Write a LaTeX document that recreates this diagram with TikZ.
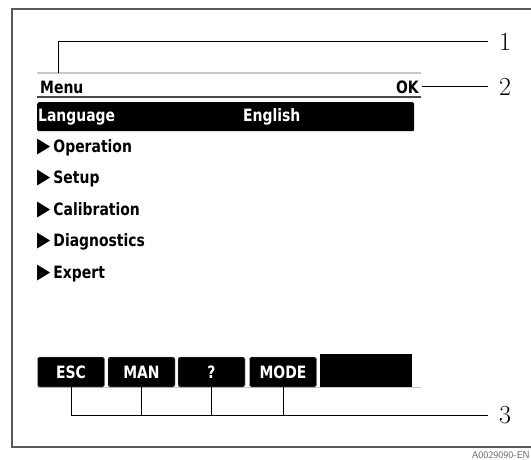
\documentclass[tikz,border=0pt]{standalone}
\usepackage{fontspec}
\usetikzlibrary{positioning}
\newfontfamily\lcdfont[FakeStretch=0.82]{DejaVu Sans}
\colorlet{framec}{black!65}
\colorlet{rulelightc}{black!22}
\colorlet{ruledarkc}{black!72}

\tikzset{
  lcd/.style={font=\lcdfont\bfseries\fontsize{17}{20}\selectfont, inner sep=0pt},
  lcdkey/.style={lcd, draw=black!35, fill=black, text=white, rounded corners=2pt,
                 minimum height=30pt, minimum width=67pt},
  leader/.style={draw=black, line width=0.8pt},
  callout/.style={font=\fontsize{26}{30}\selectfont, inner sep=0pt},
}
\newcommand{\menuarrow}{{\fontsize{21}{20}\selectfont ▶}\hspace{3pt}}

\begin{document}
\begin{tikzpicture}[x=1pt,y=-1pt]
\useasboundingbox (0,0) rectangle (531,459);

% outer frame, open on the right
\draw[framec, line width=1.3pt] (535,9) -- (12,9) -- (12,447) -- (535,447);

% header lines
\draw[rulelightc, line width=1.5pt] (37,73) -- (421,73);
\draw[ruledarkc, line width=2.2pt] (37,97) -- (421,97);
\draw[rulelightc, line width=1pt] (37,387.5) -- (421,387.5);

\node[lcd, anchor=base west] (menu) at (40,93) {Menu};
\node[lcd, anchor=base east] (ok) at (419,93) {OK};

% selected line
\node[fill=black, rounded corners=2pt, inner sep=0pt, anchor=north west,
      minimum width=377pt, minimum height=29pt] (langbar) at (37,102) {};
\node[lcd, text=white, anchor=base west] (lang) at (38,121) {Language};
\node[lcd, text=white, anchor=base west] (english) at (243,121) {English};

% menu entries
\foreach \name/\txt [count=\i from 0] in {oper/Operation, setup/Setup,
    calib/Calibration, diag/Diagnostics, expert/Expert}
  \node[lcd, anchor=base west] (\name) at (37,{152+31.5*\i}) {\menuarrow\txt};

% soft keys
\node[lcdkey] (esc) at (71,372) {ESC};
\node[lcdkey] (man) at (141.5,372) {MAN};
\node[lcdkey] (help) at (211.5,372) {?};
\node[lcdkey] (mode) at (283,372) {MODE};
\node[fill=black, inner sep=0pt, minimum width=92pt, minimum height=33pt] (blank) at (366,370.5) {};

% callouts
\coordinate (c1) at (488,41.5);
\coordinate (h1) at (58,73);
\draw[leader] (h1) |- (c1);
\node[callout, right=11pt of c1] (n1) {1};

\coordinate (c2) at (ok.east -| c1);
\draw[leader, shorten <=3pt] (ok.east) -- (c2);
\node[callout, right=11pt of c2] (n2) {2};

\coordinate (c3) at (488,415);
\draw[leader] (esc.south) |- (c3);
\foreach \k in {man,help,mode}
  \draw[leader] (\k.south) -- (\k.south |- c3);
\node[callout, right=11pt of c3] (n3) {3};

\node[font=\sffamily\fontsize{10}{12}\selectfont, text=black!60, anchor=east, inner sep=0pt]
  (code) at (530,455) {A0029090-EN};
\end{tikzpicture}
\end{document}
